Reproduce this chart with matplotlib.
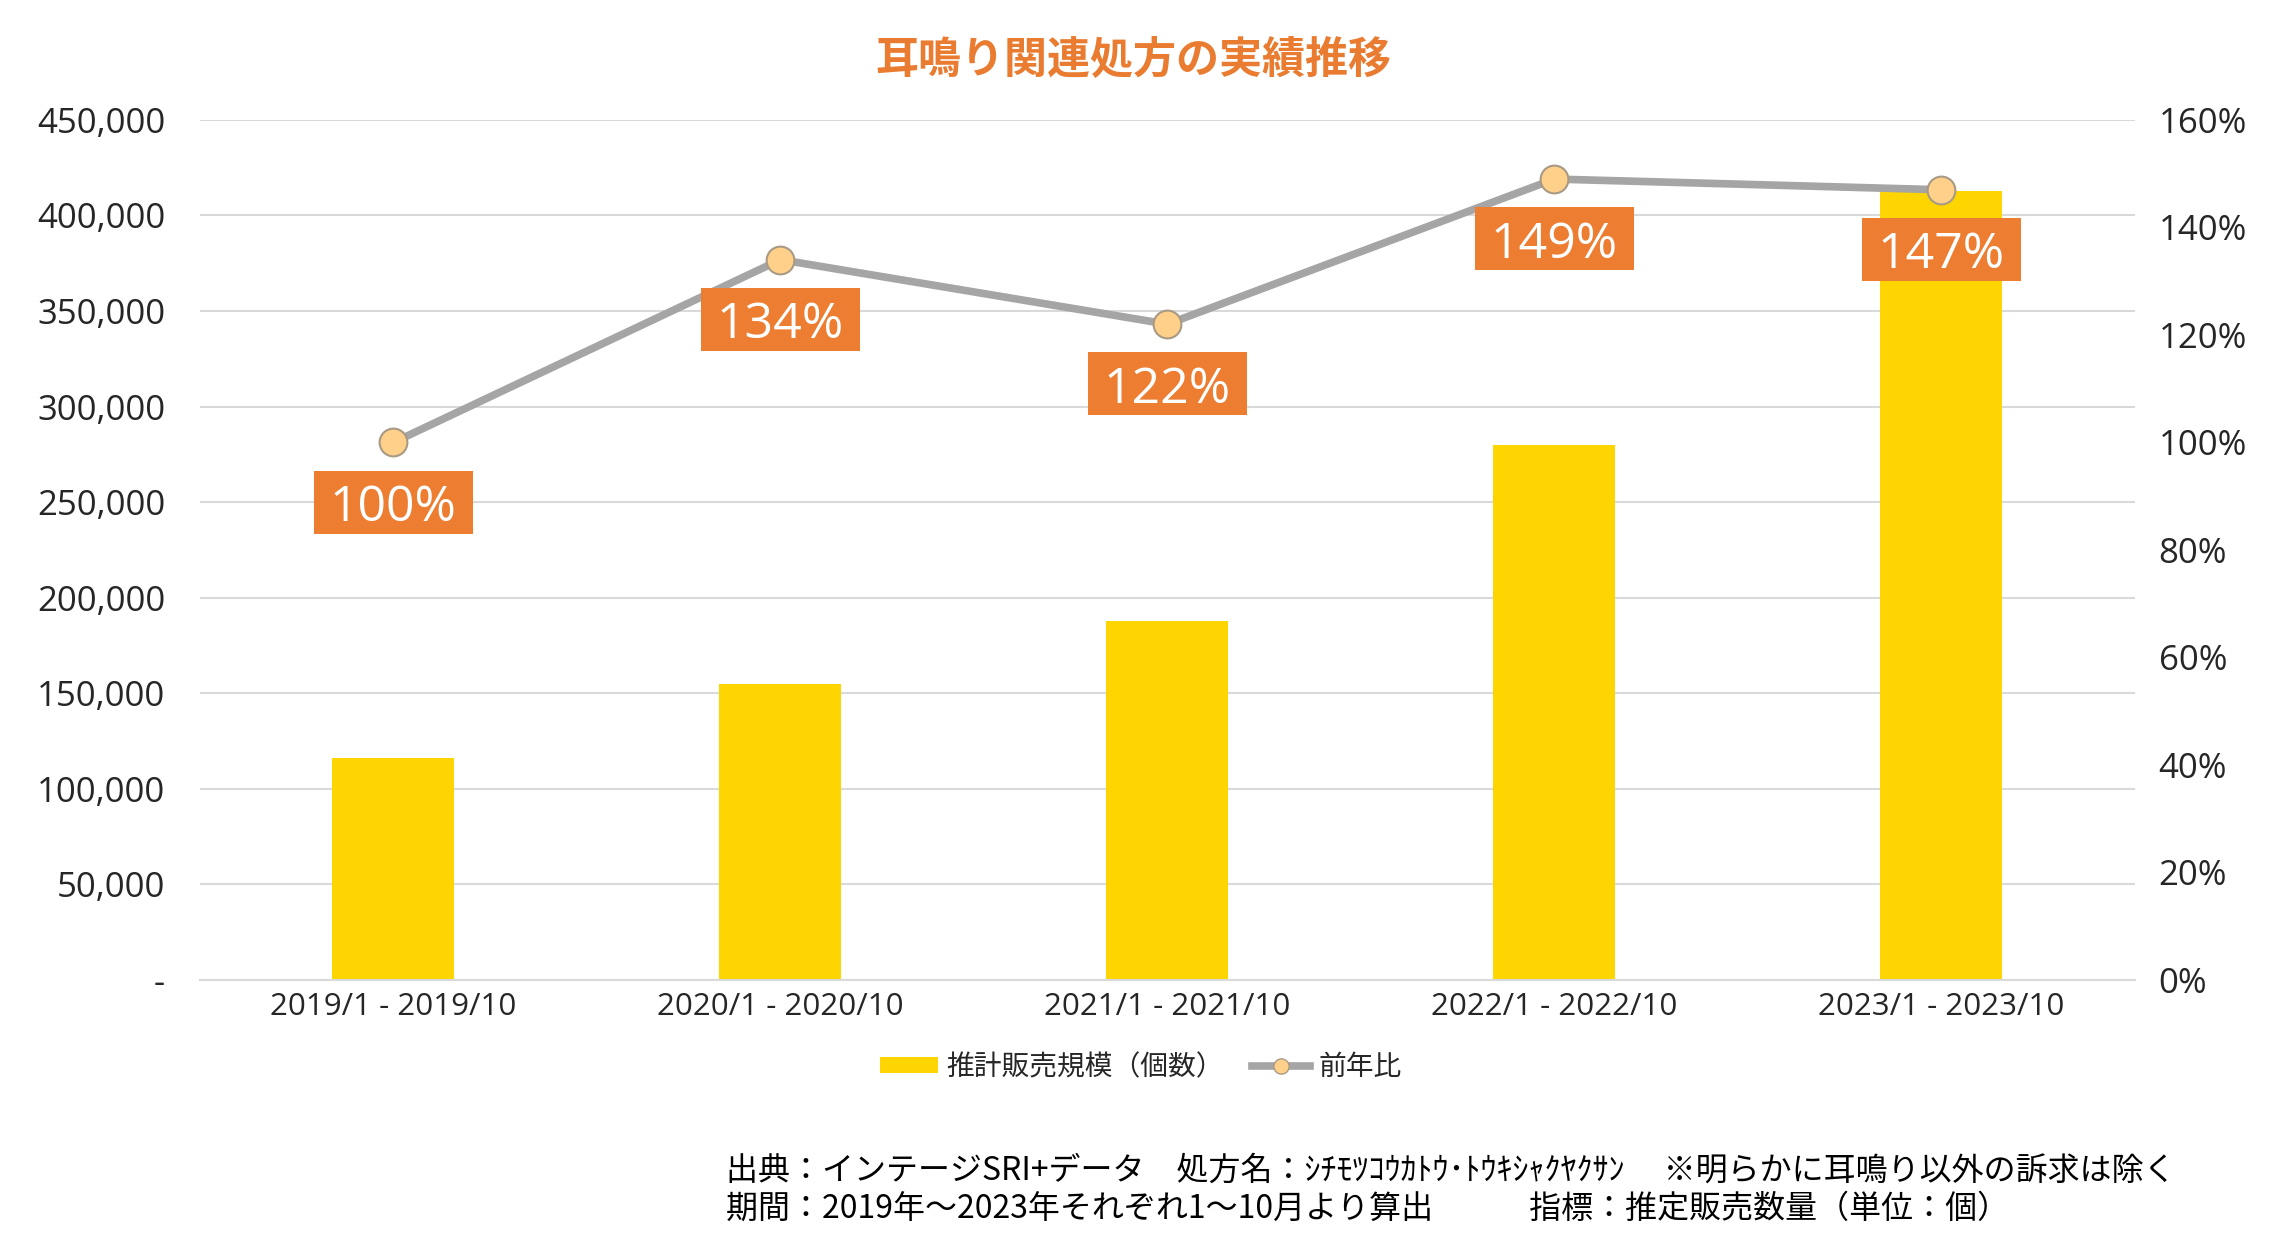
import matplotlib
matplotlib.use("Agg")
import matplotlib.pyplot as plt
from matplotlib.patches import Patch, Rectangle
from matplotlib.lines import Line2D
from matplotlib.ticker import FuncFormatter, MultipleLocator
from matplotlib.transforms import offset_copy

plt.rcParams['font.family'] = ['Noto Sans CJK JP', 'DejaVu Sans']
NUM_FONT = ['Open Sans', 'Noto Sans CJK JP', 'DejaVu Sans']

# ---- data ----
categories = ["2019/1 - 2019/10", "2020/1 - 2020/10", "2021/1 - 2021/10",
              "2022/1 - 2022/10", "2023/1 - 2023/10"]
sales = [116000, 155000, 188000, 280000, 413000]
yoy = [1.00, 1.34, 1.22, 1.49, 1.47]
yoy_labels = ["100%", "134%", "122%", "149%", "147%"]

title = "耳鳴り関連処方の実績推移"
bar_name = "推計販売規模（個数）"
line_name = "前年比"
footer1 = "出典：インテージSRI+データ　処方名：ｼﾁﾓﾂｺｳｶﾄｳ･ﾄｳｷｼｬｸﾔｸｻﾝ　 ※明らかに耳鳴り以外の訴求は除く"
footer2 = "期間：2019年～2023年それぞれ1～10月より算出　　　指標：推定販売数量（単位：個）"

# ---- styles ----
BAR_C = '#FFD500'
LINE_C = '#A5A5A5'
MK_FACE = '#FFD08A'
MK_EDGE = '#A89A84'
LBL_C = '#ED7D31'
GRID_C = '#D9D9D9'
TXT_C = '#262626'
BOX_W = 0.41   # label box width (category units)
BOX_H = 0.117  # label box height (right-axis units)

fig = plt.figure(figsize=(22.77, 12.57), dpi=100)
ax = fig.add_axes([0.0878, 0.2204, 0.8498, 0.6842])
x = list(range(len(categories)))

ax.bar(x, sales, width=0.315, color=BAR_C, zorder=2)
ax.set_xlim(-0.5, len(categories) - 0.5)
ax.set_ylim(0, 450000)
ax.yaxis.set_major_locator(MultipleLocator(50000))
ax.yaxis.set_major_formatter(FuncFormatter(lambda v, p: "-" if v == 0 else f"{int(v):,}"))
ax.grid(axis='y', color=GRID_C, linewidth=1.5, zorder=0)
ax.set_axisbelow(True)
for s in ['top', 'right', 'left']:
    ax.spines[s].set_visible(False)
ax.spines['bottom'].set_color(GRID_C)
ax.spines['bottom'].set_linewidth(1.5)
ax.set_xticks(x)
ax.set_xticklabels(categories)
ax.tick_params(axis='x', length=0, pad=9, labelsize=22.5, labelcolor=TXT_C)
ax.tick_params(axis='y', length=0, pad=25, labelsize=25, labelcolor=TXT_C)
for t in ax.get_xticklabels() + ax.get_yticklabels():
    t.set_family(NUM_FONT)

ax2 = ax.twinx()
ax2.set_ylim(0, 1.6)
ax2.yaxis.set_major_locator(MultipleLocator(0.2))
ax2.yaxis.set_major_formatter(FuncFormatter(lambda v, p: f"{v*100:.0f}%"))
ax2.tick_params(axis='y', length=0, pad=17, labelsize=25, labelcolor=TXT_C)
for t in ax2.get_yticklabels():
    t.set_family(NUM_FONT)
for s in ax2.spines.values():
    s.set_visible(False)

ax2.plot(x, yoy, color=LINE_C, linewidth=5.5, marker='o', markersize=20,
         markerfacecolor=MK_FACE, markeredgecolor=MK_EDGE, markeredgewidth=1.5,
         zorder=3, solid_capstyle='round')

lbl_trans = offset_copy(ax2.transData, fig=fig, x=0, y=-43, units='points')
for xi, yi, lab in zip(x, yoy, yoy_labels):
    ax2.add_patch(Rectangle((xi - BOX_W / 2, yi - BOX_H / 2), BOX_W, BOX_H,
                            facecolor=LBL_C, edgecolor='none', transform=lbl_trans,
                            zorder=5, clip_on=False))
    ax2.text(xi, yi, lab, transform=lbl_trans, ha='center', va='center_baseline',
             fontsize=36, color='white', zorder=6, family=NUM_FONT)

fig.text(0.4977, 0.952, title, ha='center', va='center', fontsize=31,
         fontweight='bold', color='#E97C30')

handles = [Patch(facecolor=BAR_C, edgecolor='none'),
           Line2D([0], [0], color=LINE_C, linewidth=5.5, marker='o', markersize=11,
                  markerfacecolor=MK_FACE, markeredgecolor=MK_EDGE)]
fig.legend(handles, [bar_name, line_name], loc='center', bbox_to_anchor=(0.5010, 0.151),
           ncol=2, frameon=False, fontsize=20, handlelength=2.1, handleheight=0.5,
           handletextpad=0.3, columnspacing=1.0, labelcolor=TXT_C)

fig.text(0.3188, 0.0684, footer1, ha='left', va='center', fontsize=23, color='black')
fig.text(0.3188, 0.0382, footer2, ha='left', va='center', fontsize=23, color='black')

fig.savefig('out.png', dpi=100, facecolor='white')
